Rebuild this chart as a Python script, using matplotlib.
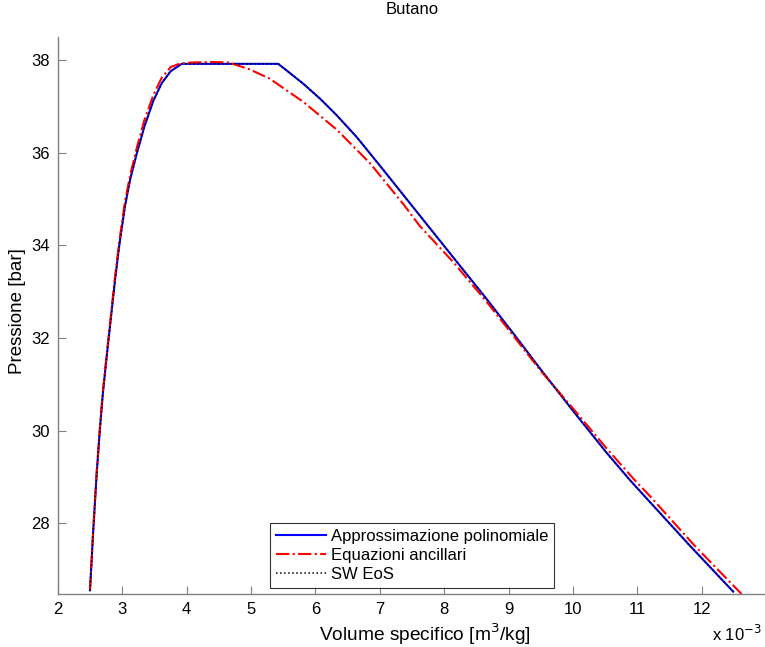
import matplotlib
matplotlib.use("Agg")
import matplotlib.pyplot as plt

plt.rcParams['font.family'] = ['Liberation Sans', 'DejaVu Sans']

# Volume specifico [1e-3 m3/kg], Pressione [bar]
poly_v = [2.497, 2.548, 2.600, 2.652, 2.700, 2.772, 2.823, 2.886, 2.952, 3.041,
          3.119, 3.223, 3.341, 3.480, 3.611, 3.750, 3.922, 5.422, 5.604, 5.811,
          6.070, 6.330, 6.640, 7.002, 7.520, 8.141, 8.660, 9.073, 9.494, 10.005,
          10.524, 10.886, 11.135, 11.800, 12.491]
poly_p = [26.55, 27.85, 29.05, 30.05, 30.85, 31.80, 32.45, 33.25, 34.00, 34.85,
          35.41, 35.98, 36.56, 37.12, 37.50, 37.76, 37.92, 37.92, 37.72, 37.49,
          37.17, 36.81, 36.34, 35.72, 34.82, 33.74, 32.84, 32.10, 31.33, 30.42,
          29.52, 28.93, 28.55, 27.54, 26.52]

anc_v = [2.497, 2.548, 2.600, 2.652, 2.700, 2.772, 2.823, 2.886, 2.952, 3.041,
         3.119, 3.223, 3.341, 3.480, 3.611, 3.750, 3.900, 4.100, 4.400, 4.650,
         4.980, 5.290, 5.810, 6.330, 6.850, 7.360, 7.620, 8.140, 8.660, 9.000,
         9.500, 10.000, 10.520, 10.960, 11.200, 11.900, 12.620]
anc_p = [26.55, 27.87, 29.08, 30.08, 30.88, 31.84, 32.50, 33.32, 34.08, 34.95,
         35.50, 36.10, 36.70, 37.24, 37.62, 37.85, 37.93, 37.95, 37.96, 37.95,
         37.80, 37.60, 37.10, 36.50, 35.77, 34.90, 34.42, 33.64, 32.78, 32.18,
         31.29, 30.48, 29.62, 28.93, 28.58, 27.50, 26.47]

sw_v = [2.497, 2.548, 2.600, 2.652, 2.700, 2.772, 2.823, 2.886, 2.952, 3.041,
        3.119, 3.223, 3.341, 3.480, 3.611, 3.750, 3.922, 5.422, 5.604, 5.811,
        6.070, 6.330, 6.640, 7.002, 7.520, 8.141, 8.660, 9.073, 9.494, 10.005,
        10.524, 10.886, 11.135, 11.800, 12.491]
sw_p = [26.55, 27.85, 29.05, 30.05, 30.85, 31.80, 32.45, 33.25, 34.00, 34.85,
        35.41, 35.98, 36.56, 37.12, 37.50, 37.76, 37.92, 37.92, 37.72, 37.49,
        37.17, 36.81, 36.34, 35.72, 34.82, 33.74, 32.84, 32.10, 31.33, 30.42,
        29.52, 28.93, 28.55, 27.54, 26.52]

labels = ['Approssimazione polinomiale', 'Equazioni ancillari', 'SW EoS']
xticks = [2, 3, 4, 5, 6, 7, 8, 9, 10, 11, 12]
yticks = [28, 30, 32, 34, 36, 38]

W, H = 765, 647
fig = plt.figure(figsize=(W / 100, H / 100), dpi=100)
left, right, top, bottom = 58, 766, 37, 594
ax = fig.add_axes([left / W, 1 - bottom / H, (right - left) / W, (bottom - top) / H])

ax.plot(poly_v, poly_p, color='#0000ff', lw=1.5, ls='-', label=labels[0])
ax.plot(anc_v, anc_p, color='#ff0000', lw=1.5, ls='-.', label=labels[1])
ax.plot(sw_v, sw_p, color='black', lw=1.1, ls=':', label=labels[2])

ax.set_xlim(2, 13)
ax.set_ylim(26.47, 38.5)
ax.set_xticks(xticks)
ax.set_yticks(yticks)
ax.tick_params(direction='in', length=6, color='#808080', labelsize=12, pad=6)
for s in ['top', 'right']:
    ax.spines[s].set_visible(False)
for s in ['left', 'bottom']:
    ax.spines[s].set_color('#808080')
    ax.spines[s].set_linewidth(1.0)

fig.text(412 / W, 1 - 9 / H, 'Butano', ha='center', va='center', fontsize=12)
fig.text(425 / W, 1 - 634 / H, 'Volume specifico [m$^3$/kg]', ha='center', va='center', fontsize=13.8)
fig.text(18 / W, 1 - 311 / H, 'Pressione [bar]', ha='center', va='center', rotation=90, fontsize=13.5)
fig.text(762 / W, 1 - 634 / H, 'x 10$^{-3}$', ha='right', va='center', fontsize=12)

leg = ax.legend(loc='lower left', bbox_to_anchor=(270 / W, 1 - 588 / H), bbox_transform=fig.transFigure,
                fontsize=12, frameon=True, fancybox=False, handlelength=3.0, handletextpad=0.3,
                labelspacing=0.25, borderpad=0.35, borderaxespad=0)
leg.get_frame().set_edgecolor('black')
leg.get_frame().set_linewidth(0.8)

fig.savefig('out.png', dpi=100)
